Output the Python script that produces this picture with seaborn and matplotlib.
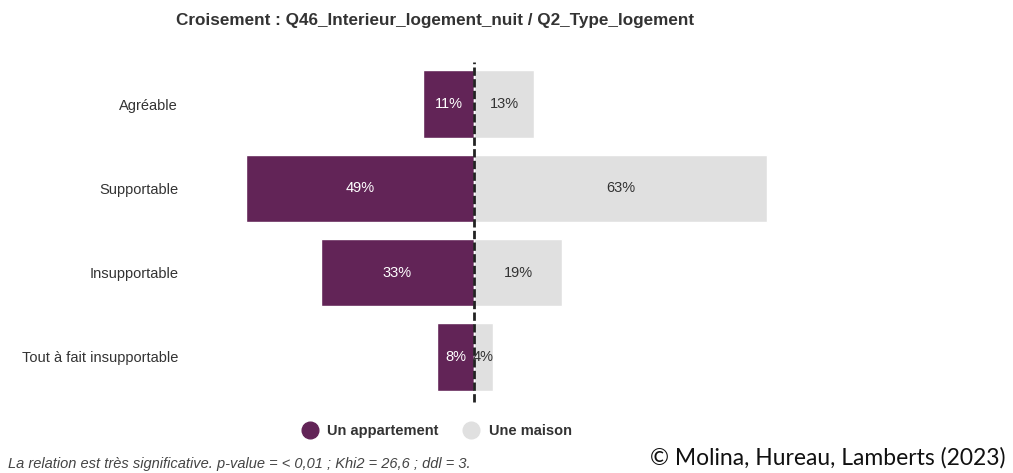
import matplotlib
matplotlib.use("Agg")
import matplotlib.pyplot as plt
from matplotlib.lines import Line2D
import seaborn as sns
import pandas as pd

# Response categories and shares (%) by housing type
categories = ["Agréable", "Supportable", "Insupportable", "Tout à fait insupportable"]
appartement = [11, 49, 33, 8]
maison = [13, 63, 19, 4]
series_names = ["Un appartement", "Une maison"]

purple = "#622457"
grey = "#e0e0e0"
text_dark = "#333333"

sns.set_theme(style="white")
plt.rcParams["font.family"] = ["Liberation Sans", "DejaVu Sans"]

W, H = 1013, 473
fig = plt.figure(figsize=(W / 100, H / 100), dpi=100)

# axes placement in pixels
ax_left, ax_right, ax_top, ax_bottom = 190, 1000, 62, 399
ax = fig.add_axes([ax_left / W, 1 - ax_bottom / H,
                   (ax_right - ax_left) / W, (ax_bottom - ax_top) / H])

df = pd.DataFrame({"cat": categories,
                   "appart": [-v for v in appartement],
                   "maison": maison})

sns.barplot(data=df, x="appart", y="cat", color=purple, width=0.8,
            saturation=1, ax=ax, orient="h")
sns.barplot(data=df, x="maison", y="cat", color=grey, width=0.8,
            saturation=1, ax=ax, orient="h")

px_per_pct = 4.65
center = 474
ax.set_xlim((ax_left - center) / px_per_pct, (ax_right - center) / px_per_pct)
ax.set_ylim(3.5, -0.5)

# value labels centred in each bar
for i, (a, m) in enumerate(zip(appartement, maison)):
    ax.text(-a / 2, i, f"{a}%", ha="center", va="center", color="white",
            fontsize=10.5)
    ax.text(m / 2, i, f"{m}%", ha="center", va="center", color=text_dark,
            fontsize=10.5)

# central dashed axis
ax.axvline(0, color="#222222", lw=2, ls=(0, (3, 1.2)), ymin=-0.01, ymax=1.0,
           clip_on=False, zorder=5)

ax.set_xlabel("")
ax.set_ylabel("")
ax.set_xticks([])
ax.tick_params(axis="y", length=0, pad=8.5, labelsize=10.5, labelcolor=text_dark)
for s in ax.spines.values():
    s.set_visible(False)

fig.text(435 / W, 1 - 20 / H,
         "Croisement : Q46_Interieur_logement_nuit / Q2_Type_logement",
         ha="center", va="center", fontsize=12.3, fontweight="bold",
         color=text_dark)

handles = [Line2D([], [], marker="o", ls="", markersize=12,
                  markerfacecolor=c, markeredgecolor=c)
           for c in (purple, grey)]
leg = fig.legend(handles, series_names, loc="center",
                 bbox_to_anchor=(437 / W, 1 - 431 / H), ncol=2, frameon=False,
                 handletextpad=0.7, columnspacing=1.75, handlelength=1.0,
                 prop={"weight": "bold", "size": 10.5})
for t in leg.get_texts():
    t.set_color(text_dark)

fig.text(8 / W, 1 - 464 / H,
         "La relation est très significative. p-value = < 0,01 ; Khi2 = 26,6 ; ddl = 3.",
         ha="left", va="center", fontsize=10.5, style="italic", color="#444444")

fig.text(1005 / W, 1 - 458 / H, "© Molina, Hureau, Lamberts (2023)",
         ha="right", va="center", fontsize=16.5, color="#111111",
         family=["Lato", "DejaVu Sans"])

fig.savefig("out.png", dpi=100, facecolor="white")
